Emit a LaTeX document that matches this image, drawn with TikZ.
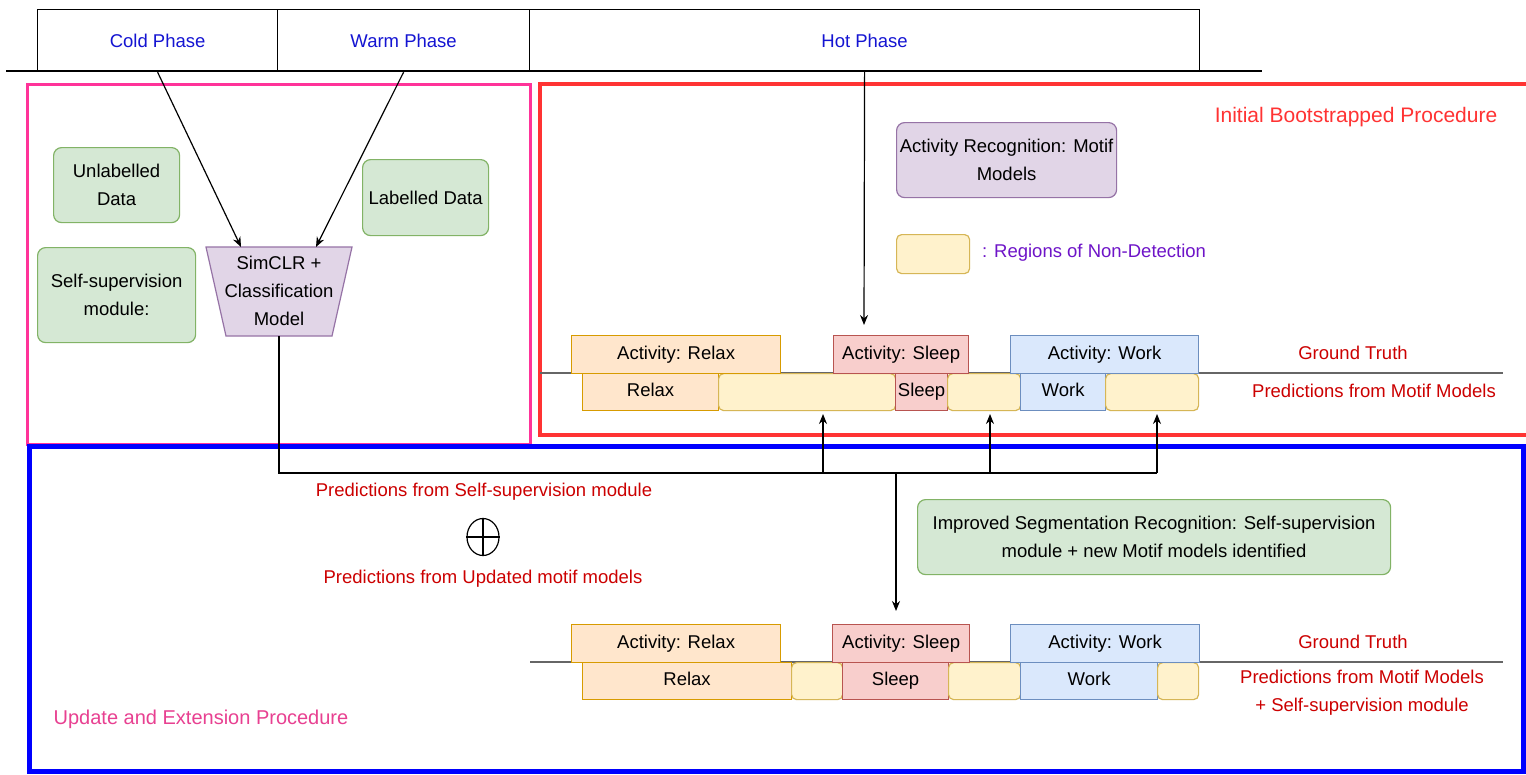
\documentclass[tikz,border=0pt]{standalone}
\usepackage{fontspec}
\setmainfont{Liberation Sans}
\usetikzlibrary{arrows.meta,shapes.geometric}

\definecolor{greenF}{HTML}{D5E8D4}\definecolor{greenD}{HTML}{82B366}
\definecolor{purpleF}{HTML}{E1D5E7}\definecolor{purpleD}{HTML}{9673A6}
\definecolor{orangeF}{HTML}{FFE6CC}\definecolor{orangeD}{HTML}{D79B00}
\definecolor{redF}{HTML}{F8CECC}\definecolor{redD}{HTML}{B85450}
\definecolor{blueF}{HTML}{DAE8FC}\definecolor{blueD}{HTML}{6C8EBF}
\definecolor{yellowF}{HTML}{FFF2CC}\definecolor{yellowD}{HTML}{D6B656}
\definecolor{phaseText}{RGB}{20,20,210}
\definecolor{labelRed}{RGB}{204,0,0}
\definecolor{frameRed}{RGB}{255,51,51}
\definecolor{framePink}{RGB}{255,51,153}
\definecolor{textPink}{RGB}{232,64,145}
\definecolor{frameBlue}{RGB}{0,0,255}
\definecolor{legendText}{RGB}{110,20,200}

\tikzset{
  every node/.style={font=\fontsize{18.5}{28}\selectfont, inner sep=0pt, align=center},
  thinline/.style={line width=1.2pt, draw=black},
  arr/.style={line width=1.2pt, -{Stealth[length=10pt,width=8pt]}},
  phasecell/.style={draw=black, line width=1.2pt, anchor=north west, minimum height=62, text=phaseText},
  greenbox/.style={draw=greenD, fill=greenF, line width=1.2pt, rounded corners=8pt, anchor=north west},
  purplebox/.style={draw=purpleD, fill=purpleF, line width=1.2pt},
  bar/.style={line width=1.2pt, anchor=north west, text height=13.5pt, text depth=4pt},
  orangebar/.style={bar, draw=orangeD, fill=orangeF},
  redbar/.style={bar, draw=redD, fill=redF},
  bluebar/.style={bar, draw=blueD, fill=blueF},
  gapbar/.style={bar, draw=yellowD, fill=yellowF, rounded corners=5pt},
  redlabel/.style={text=labelRed},
  timeline/.style={draw=black!60, line width=1.5pt},
  titlelabel/.style={font=\fontsize{21}{28}\selectfont},
}

\begin{document}
\begin{tikzpicture}[x=1pt,y=-1pt]
\clip (0,0) rectangle (1526,774);
\fill[white] (0,0) rectangle (1526,774);

% phase header
\node[phasecell, minimum width=240] (cold) at (37,9) {Cold Phase};
\node[phasecell, minimum width=252] (warm) at (277,9) {Warm Phase};
\node[phasecell, minimum width=670] (hot) at (529,9) {Hot Phase};
\draw[thinline] (6,71) -- (1262,71);

% procedure frames
\draw[framePink, line width=3pt] (27,84) rectangle (530,444);
\draw[frameRed, line width=3.5pt] (540,84) rectangle (1540,435);
\draw[frameBlue, line width=5pt] (29,446) rectangle (1523,771);

\node[titlelabel, text=frameRed] (initLbl) at (1356,117) {Initial Bootstrapped Procedure};
\node[titlelabel, font=\fontsize{20}{28}\selectfont, text=textPink] (updLbl) at (201,719) {Update and Extension Procedure};

% self-supervision module
\node[greenbox, minimum width=126, minimum height=75] (unlab) at (53,147) {Unlabelled\\Data};
\node[greenbox, minimum width=158, minimum height=95] (selfsup) at (37,247) {Self-supervision\\module:};
\node[greenbox, minimum width=126, minimum height=76] (lab) at (362,159) {Labelled Data};
\draw[purplebox] (206,247) -- (352,247) -- (332,336) -- (226,336) -- cycle;
\node (sim) at (279,291) {SimCLR +\\Classification\\Model};
\coordinate (simInA) at (241,247);
\coordinate (simInB) at (316,247);
\coordinate (simOut) at (279,336);
\draw[arr] (cold.south) -- (simInA);
\draw[arr] (warm.south) -- (simInB);

% motif models and legend
\node[purplebox, rounded corners=8pt, anchor=north west, minimum width=220, minimum height=75] (motif) at (896,122) {Activity Recognition: Motif\\Models};
\node[gapbar, minimum width=73, minimum height=39] (legendBox) at (896,234) {};
\node[anchor=west, text=legendText] (legendTxt) at (982,253) {: Regions of Non-Detection};
\coordinate (hotTip) at (864,325);
\draw[arr] (hot.south) -- (hotTip);

% first timeline: ground truth vs motif predictions
\draw[timeline] (540,373) -- (1503,373);
\node[orangebar, minimum width=136, minimum height=37] (p1Relax) at (582,373) {Relax};
\node[gapbar, minimum width=177, minimum height=37] (p1GapA) at (718,373) {};
\node[redbar, minimum width=52, minimum height=37] (p1Sleep) at (895,373) {Sleep};
\node[gapbar, minimum width=73, minimum height=37] (p1GapB) at (947,373) {};
\node[bluebar, minimum width=85, minimum height=37] (p1Work) at (1020,373) {Work};
\node[gapbar, minimum width=93, minimum height=37] (p1GapC) at (1105,373) {};
\node[orangebar, minimum width=209, minimum height=38] (g1Relax) at (571,335) {Activity: Relax};
\node[redbar, minimum width=135, minimum height=38] (g1Sleep) at (833,335) {Activity: Sleep};
\node[bluebar, minimum width=188, minimum height=38] (g1Work) at (1010,335) {Activity: Work};
\node[redlabel] (g1Lbl) at (1353,353) {Ground Truth};
\node[redlabel] (p1Lbl) at (1374,391) {Predictions from Motif Models};

% feedback bus from the self-supervision module
\coordinate (busL) at (279,473);
\coordinate (busR) at (1157,473);
\coordinate (upA) at (823,473);
\coordinate (upB) at (990,473);
\coordinate (busDown) at (896,473);
\coordinate (tipA) at (823,414);
\coordinate (tipB) at (990,414);
\coordinate (tipC) at (1157,414);
\coordinate (tipDown) at (896,611);
\draw[thinline] (simOut) -- (busL) -- (busR);
\draw[arr] (upA) -- (tipA);
\draw[arr] (upB) -- (tipB);
\draw[arr] (busR) -- (tipC);
\draw[arr] (busDown) -- (tipDown);

% combination of predictions
\node[redlabel] (ssPred) at (484,492) {Predictions from Self-supervision module};
\node[draw, ellipse, line width=1.2pt, minimum width=32, minimum height=37] (oplus) at (483,537) {};
\draw[line width=1.2pt] (oplus.north) -- (oplus.south) (oplus.west) -- (oplus.east);
\node[redlabel] (upPred) at (483,579) {Predictions from Updated motif models};

\node[greenbox, minimum width=473, minimum height=75] (improved) at (917,499) {Improved Segmentation Recognition: Self-supervision\\module + new Motif models identified};

% second timeline: ground truth vs combined predictions
\draw[timeline] (530,662) -- (1503,662);
\node[orangebar, minimum width=209, minimum height=37] (p2Relax) at (582,662) {Relax};
\node[gapbar, minimum width=51, minimum height=37] (p2GapA) at (791,662) {};
\node[redbar, minimum width=106, minimum height=37] (p2Sleep) at (842,662) {Sleep};
\node[gapbar, minimum width=72, minimum height=37] (p2GapB) at (948,662) {};
\node[bluebar, minimum width=137, minimum height=37] (p2Work) at (1020,662) {Work};
\node[gapbar, minimum width=41, minimum height=37] (p2GapC) at (1157,662) {};
\node[orangebar, minimum width=209, minimum height=38] (g2Relax) at (571,624) {Activity: Relax};
\node[redbar, minimum width=137, minimum height=38] (g2Sleep) at (832,624) {Activity: Sleep};
\node[bluebar, minimum width=189, minimum height=38] (g2Work) at (1010,624) {Activity: Work};
\node[redlabel] (g2Lbl) at (1353,642) {Ground Truth};
\node[redlabel] (p2Lbl) at (1362,693) {Predictions from Motif Models\\+ Self-supervision module};
\end{tikzpicture}
\end{document}
